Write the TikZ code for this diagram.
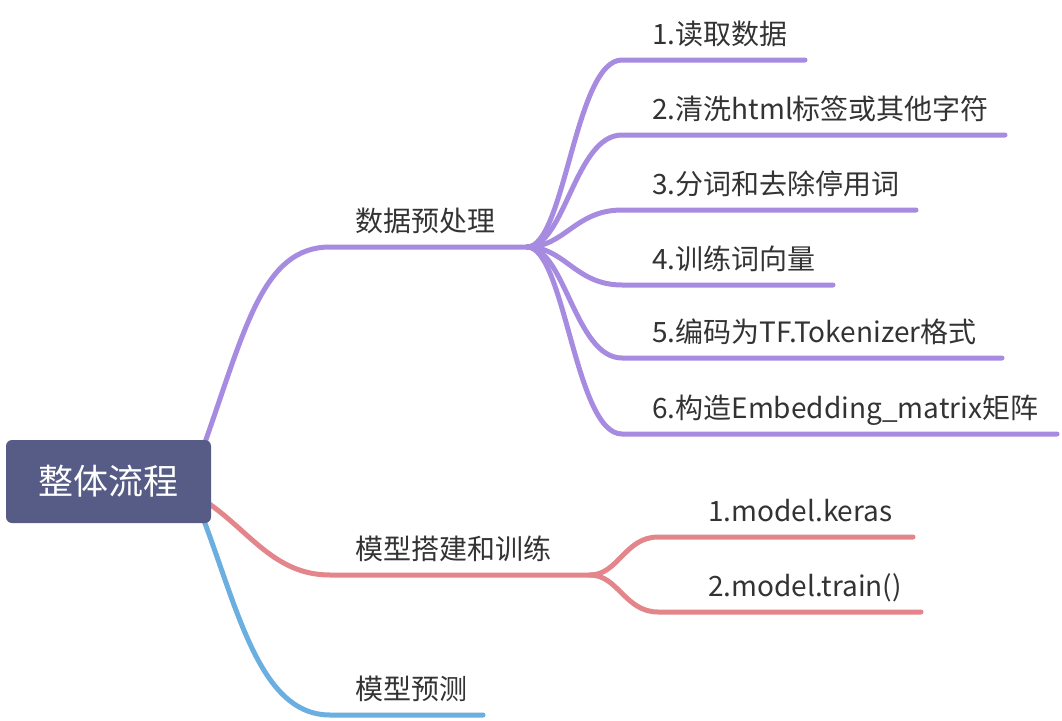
\documentclass[tikz,border=0pt]{standalone}
\usepackage{fontspec}
\setmainfont{Noto Sans CJK SC}
\usepackage{xcolor}
\usepackage{tikz}
\usetikzlibrary{positioning,backgrounds}

\definecolor{rootslate}{HTML}{575C87}
\definecolor{prepurple}{HTML}{A68BE0}
\definecolor{trainred}{HTML}{E3858A}
\definecolor{predblue}{HTML}{6AAFE0}
\definecolor{labelgray}{HTML}{333333}

\begin{document}
\begin{tikzpicture}[
    x=1pt, y=-1pt,
    root/.style={fill=rootslate, rounded corners=6pt, minimum width=205pt, minimum height=83pt, text=white, font=\fontsize{35}{40}\selectfont},
    lbl/.style={anchor=base west, inner sep=0pt, text=labelgray, font=\fontsize{28}{32}\selectfont},
    edge/.style={line width=5pt, line cap=round},
]
\useasboundingbox (0,0) rectangle (1062,720);
\node[root] (whole) at (108.5,481.5) {整体流程};
% branch labels
\node[lbl] (prep) at (355,231) {数据预处理};
\node[lbl] (build) at (355,559) {模型搭建和训练};
\node[lbl] (pred) at (355,699) {模型预测};
% preprocessing steps
\node[lbl] (read) at (652,44) {1.读取数据};
\node[lbl] (clean) at (652,119) {2.清洗html标签或其他字符};
\node[lbl] (seg) at (652,194) {3.分词和去除停用词};
\node[lbl] (vec) at (652,269) {4.训练词向量};
\node[lbl] (enc) at (652,342) {5.编码为TF.Tokenizer格式};
\node[lbl] (emb) at (652,418) {6.构造Embedding\_matrix矩阵};
% model steps
\node[lbl] (keras) at (708,521) {1.model.keras};
\node[lbl] (train) at (708,596) {2.model.train()};
\coordinate (prepStart) at (203,448);
\coordinate (buildStart) at (208,503);
\coordinate (predStart) at (203,518);
\coordinate (prepHub) at (527,247);
\coordinate (buildHub) at (590,575);
\begin{scope}[on background layer]
\draw[edge, prepurple] (prepStart) .. controls (245,330) and (262,247) .. (330,247) -- (prepHub);
\draw[edge, trainred] (buildStart) .. controls (250,532) and (275,575) .. (330,575) -- (buildHub);
\draw[edge, predblue] (predStart) .. controls (238,610) and (260,715) .. (330,715) -- (483,715);
\draw[edge, prepurple] (prepHub) .. controls (565,247) and (575,60) .. (622,60) -- (805,60);
\draw[edge, prepurple] (prepHub) .. controls (565,247) and (575,135) .. (622,135) -- (1005,135);
\draw[edge, prepurple] (prepHub) .. controls (565,247) and (575,210) .. (622,210) -- (916,210);
\draw[edge, prepurple] (prepHub) .. controls (565,247) and (575,285) .. (622,285) -- (833,285);
\draw[edge, prepurple] (prepHub) .. controls (565,247) and (575,358) .. (622,358) -- (1002,358);
\draw[edge, prepurple] (prepHub) .. controls (565,247) and (575,434) .. (622,434) -- (1057,434);
\draw[edge, trainred] (buildHub) .. controls (618,575) and (625,537) .. (658,537) -- (913,537);
\draw[edge, trainred] (buildHub) .. controls (618,575) and (625,612) .. (658,612) -- (921,612);
\end{scope}
\end{tikzpicture}
\end{document}
